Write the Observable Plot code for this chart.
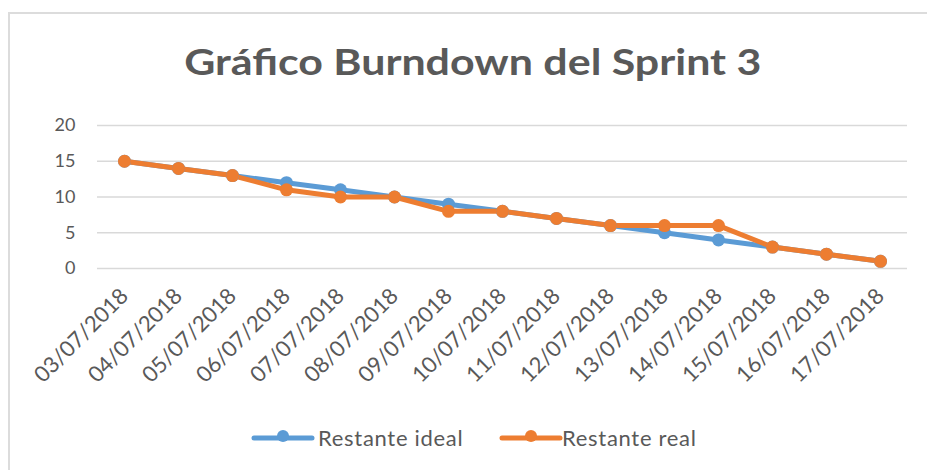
<!DOCTYPE html>
<html>
<head>
<meta charset="utf-8">
<script src="https://cdn.jsdelivr.net/npm/d3@7"></script>
<script src="https://cdn.jsdelivr.net/npm/@observablehq/plot@0.6"></script>
<style>
  html, body { margin: 0; padding: 0; background: #fff; }
  body { width: 927px; height: 470px; position: relative; overflow: hidden; font-family: Lato, "Open Sans", sans-serif; }
  #frame { position: absolute; left: 8px; top: 12px; right: -2px; bottom: -2px; border-top: 2px solid #dcdcdc; border-left: 2px solid #dcdcdc; }
  #title { position: absolute; left: 0; top: 38px; width: 946px; text-align: center; font-size: 37px; font-weight: 700; color: #595959; }
  #title span { display: inline-block; transform: scaleX(1.16); transform-origin: center; }
  #chart { position: absolute; left: 0; top: 100px; }
  .sw { position: absolute; top: 428px; }
  .lt { position: absolute; top: 424px; font-size: 22px; color: #595959; letter-spacing: 0.7px; white-space: nowrap; }
</style>
</head>
<body>
<div id="frame"></div>
<div id="title"><span>Gráfico Burndown del Sprint 3</span></div>
<div id="chart"></div>
<div id="legend"></div>
<script>
const dates = ["03/07/2018","04/07/2018","05/07/2018","06/07/2018","07/07/2018","08/07/2018","09/07/2018","10/07/2018","11/07/2018","12/07/2018","13/07/2018","14/07/2018","15/07/2018","16/07/2018","17/07/2018"];
const ideal = [15,14,13,12,11,10,9,8,7,6,5,4,3,2,1];
const real  = [15,14,13,11,10,10,8,8,7,6,6,6,3,2,1];
const seriesNames = ["Restante ideal","Restante real"];
const seriesColors = ["#5B9BD5","#ED7D31"];
const yTicks = [0,5,10,15,20];

const rows = [];
dates.forEach((d,i) => rows.push({date: d, value: ideal[i], series: seriesNames[0]}));
dates.forEach((d,i) => rows.push({date: d, value: real[i], series: seriesNames[1]}));

const plot = Plot.plot({
  width: 927,
  height: 310,
  marginLeft: 97,
  marginRight: 20,
  marginTop: 25,
  marginBottom: 142,
  style: {fontFamily: "Lato, 'Open Sans', sans-serif", fontSize: "18px", color: "#595959", background: "transparent"},
  x: {type: "point", domain: dates, padding: 0.5, label: null},
  y: {domain: [0, 20], ticks: yTicks, label: null},
  color: {domain: seriesNames, range: seriesColors},
  marks: [
    Plot.gridY(yTicks, {stroke: "#d9d9d9", strokeOpacity: 1, strokeWidth: 1.3}),
    Plot.axisY(yTicks, {tickSize: 0, tickPadding: 22, fontSize: 18, fill: "#595959", label: null}),
    Plot.axisX({tickSize: 0, tickRotate: -45, tickPadding: 24, fontSize: 22, fill: "#595959", label: null}),
    Plot.line(rows, {x: "date", y: "value", z: "series", stroke: "series", strokeWidth: 5, strokeLinejoin: "round", strokeLinecap: "round"}),
    Plot.dot(rows, {x: "date", y: "value", fill: "series", r: 6.5, stroke: "none"})
  ]
});
document.getElementById("chart").appendChild(plot);

const legend = document.getElementById("legend");
const swLeft = [250, 498];
const txtLeft = [318, 562];
seriesNames.forEach((name, i) => {
  const sw = document.createElement("div");
  sw.className = "sw";
  sw.style.left = swLeft[i] + "px";
  sw.innerHTML = `<svg width="66" height="18"><line x1="4" y1="10" x2="62" y2="10" stroke="${seriesColors[i]}" stroke-width="5" stroke-linecap="round"/><circle cx="33" cy="8" r="6" fill="${seriesColors[i]}"/></svg>`;
  legend.appendChild(sw);
  const t = document.createElement("div");
  t.className = "lt";
  t.style.left = txtLeft[i] + "px";
  t.textContent = name;
  legend.appendChild(t);
});
</script>
</body>
</html>
